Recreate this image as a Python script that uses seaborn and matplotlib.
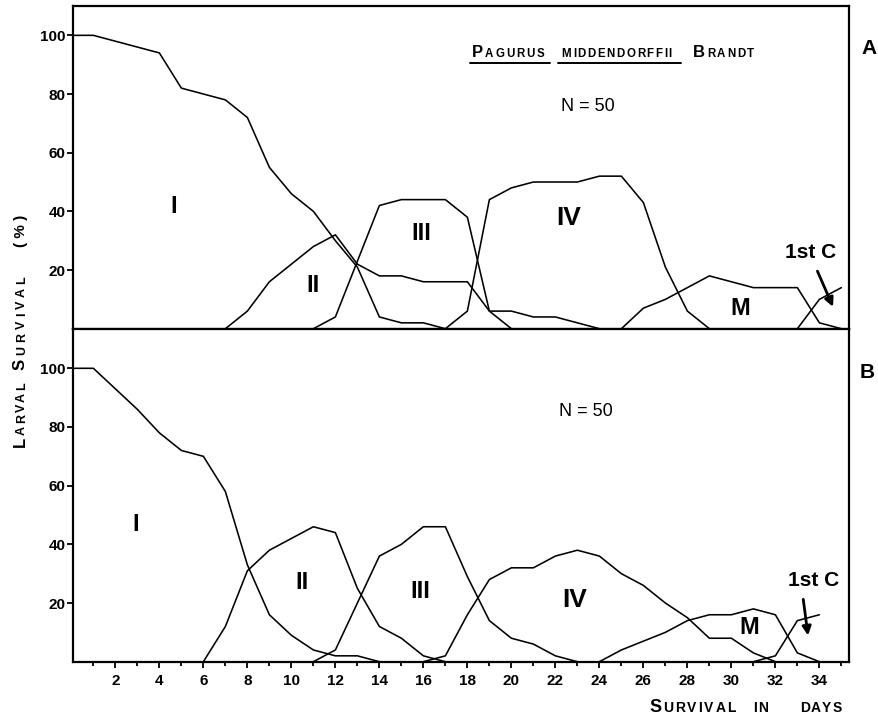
import matplotlib
matplotlib.use("Agg")
import matplotlib.pyplot as plt
import numpy as np
import pandas as pd
import seaborn as sns

# ---------------- data ----------------
# Panel A
A_I_days = list(range(0, 18))
A_I_vals = [100, 100, 98, 96, 94, 82, 80, 78, 72, 55, 46, 40, 30, 21, 4, 2, 2, 0]
A_II_days = list(range(7, 21))
A_II_vals = [0, 6, 16, 22, 28, 32, 22, 18, 18, 16, 16, 16, 6, 0]
A_III_days = list(range(11, 25))
A_III_vals = [0, 4, 23, 42, 44, 44, 44, 38, 6, 6, 4, 4, 2, 0]
A_IV_days = list(range(17, 30))
A_IV_vals = [0, 6, 44, 48, 50, 50, 50, 52, 52, 43, 21, 6, 0]
A_M_days = list(range(25, 36))
A_M_vals = [0, 7, 10, 14, 18, 16, 14, 14, 14, 2, 0]
A_C_days = [33, 34, 35]
A_C_vals = [0, 10, 14]

# Panel B
B_I_days = list(range(0, 15))
B_I_vals = [100, 100, 93, 86, 78, 72, 70, 58, 33, 16, 9, 4, 2, 2, 0]
B_II_days = list(range(6, 18))
B_II_vals = [0, 12, 31, 38, 42, 46, 44, 25, 12, 8, 2, 0]
B_III_days = list(range(11, 24))
B_III_vals = [0, 4, 20, 36, 40, 46, 46, 29, 14, 8, 6, 2, 0]
B_IV_days = list(range(16, 33))
B_IV_vals = [0, 2, 16, 28, 32, 32, 36, 38, 36, 30, 26, 20, 15, 8, 8, 3, 0]
B_M_days = list(range(24, 35))
B_M_vals = [0, 4, 7, 10, 14, 16, 16, 18, 16, 3, 0]
B_C_days = [31, 32, 33, 34]
B_C_vals = [0, 2, 14, 16]

stage_names = ["I", "II", "III", "IV", "M", "1st C"]
x_tick_labels = [str(d) for d in range(2, 35, 2)]
y_ticks = [20, 40, 60, 80, 100]

# ---------------- style ----------------
sns.set_style("ticks")
plt.rcParams["font.family"] = ["Liberation Sans", "DejaVu Sans"]
plt.rcParams["axes.linewidth"] = 1.6
for k in ["text.color", "axes.labelcolor", "xtick.color", "ytick.color", "axes.edgecolor"]:
    plt.rcParams[k] = "black"

W, H = 879, 716
fig = plt.figure(figsize=(W / 100, H / 100), dpi=100)


def fx(px):
    return px / W


def fy(py):
    return 1 - py / H


L, R = 72.7, 849.3
axA = fig.add_axes([fx(L), fy(328.7), (R - L) / W, (328.7 - 6) / H])
axB = fig.add_axes([fx(L), fy(661.7), (R - L) / W, (661.7 - 328.7) / H])


def make_df(pairs):
    rows = []
    for name, (d, v) in zip(stage_names, pairs):
        for dd, vv in zip(d, v):
            rows.append({"day": dd, "value": vv, "stage": name})
    return pd.DataFrame(rows)


dfA = make_df([(A_I_days, A_I_vals), (A_II_days, A_II_vals), (A_III_days, A_III_vals),
               (A_IV_days, A_IV_vals), (A_M_days, A_M_vals), (A_C_days, A_C_vals)])
dfB = make_df([(B_I_days, B_I_vals), (B_II_days, B_II_vals), (B_III_days, B_III_vals),
               (B_IV_days, B_IV_vals), (B_M_days, B_M_vals), (B_C_days, B_C_vals)])

for ax, df, ytop in [(axA, dfA, 110), (axB, dfB, 113.5)]:
    sns.lineplot(data=df, x="day", y="value", hue="stage", palette=["black"] * 6,
                 legend=False, linewidth=1.15, ax=ax, estimator=None, sort=False)
    ax.set_xlim(0.06, 35.36)
    ax.set_ylim(0, ytop)
    ax.set_xlabel("")
    ax.set_ylabel("")
    ax.set_yticks(y_ticks)
    ax.set_yticklabels([str(v) for v in y_ticks], fontweight="bold", fontsize=11)
    ax.set_xticks(list(range(2, 35, 2)))
    ax.set_xticks(list(range(1, 36, 2)), minor=True)
    ax.tick_params(axis="y", direction="out", length=4, width=1.3, pad=1, colors="black")
    ax.tick_params(axis="x", which="major", direction="out", length=4, width=1.3, pad=5,
                   colors="black")
    ax.tick_params(axis="x", which="minor", direction="out", length=3, width=1.3,
                   colors="black")
    for s in ax.spines.values():
        s.set_linewidth(1.6)
        s.set_color("black")

axA.tick_params(axis="x", labelbottom=False)
axB.set_xticklabels(x_tick_labels, fontweight="bold", fontsize=11)

# ---------------- stage labels ----------------
lab = dict(ha="center", va="center", fontweight="bold", color="black")
axA.text(4.64, 41.6, "I", fontsize=17, **lab)
axA.text(11.0, 14.6, "II", fontsize=17, **lab)
axA.text(15.9, 32.5, "III", fontsize=17, **lab)
axA.text(22.6, 37.6, "IV", fontsize=19, **lab)
axA.text(30.4, 7.0, "M", fontsize=17, **lab)
axA.text(33.6, 26.0, "1st C", fontsize=15, **lab)
axA.annotate("", xy=(34.67, 6.6), xytext=(33.86, 20.5),
             arrowprops=dict(arrowstyle="-|>", lw=2, color="black", mutation_scale=13))
axA.text(23.47, 75.9, "N = 50", fontsize=13, ha="center", va="center", color="black")

axB.text(2.94, 46.6, "I", fontsize=17, **lab)
axB.text(10.5, 26.9, "II", fontsize=17, **lab)
axB.text(15.85, 23.9, "III", fontsize=17, **lab)
axB.text(22.9, 21.0, "IV", fontsize=19, **lab)
axB.text(30.8, 11.6, "M", fontsize=17, **lab)
axB.text(33.76, 27.6, "1st C", fontsize=15, **lab)
axB.annotate("", xy=(33.5, 8.0), xytext=(33.25, 22.2),
             arrowprops=dict(arrowstyle="-|>", lw=2, color="black", mutation_scale=13))
axB.text(23.4, 85.2, "N = 50", fontsize=13, ha="center", va="center", color="black")

fig.text(fx(868.7), fy(49), "A", fontsize=15, fontweight="bold", ha="center", va="center")
fig.text(fx(867.3), fy(373), "B", fontsize=15, fontweight="bold", ha="center", va="center")

# ---------------- small-caps helper ----------------
renderer = fig.canvas.get_renderer()


def small_caps(x_px, y_px, parts, tracking=1.5, vertical=False, weight="bold"):
    pos = y_px if vertical else x_px
    for text, size in parts:
        for ch in text:
            if vertical:
                t = fig.text(fx(x_px), fy(pos), ch, fontsize=size, fontweight=weight,
                             ha="left", va="baseline", rotation=90, rotation_mode="anchor")
                bb = t.get_window_extent(renderer)
                pos -= bb.height + tracking
            else:
                t = fig.text(fx(pos), fy(y_px), ch, fontsize=size, fontweight=weight,
                             ha="left", va="baseline")
                bb = t.get_window_extent(renderer)
                pos += bb.width + tracking
    return pos


# title
small_caps(471.7, 57.3, [("P", 12), ("AGURUS", 8.3)], tracking=2.0)
small_caps(561.7, 57.3, [("MIDDENDORFFII", 8.3)], tracking=1.6)
small_caps(693.0, 57.3, [("B", 12), ("RANDT", 8.3)], tracking=1.8)
fig.add_artist(plt.Line2D([fx(470), fx(550)], [fy(63.3), fy(63.3)], color="black", lw=1.4))
fig.add_artist(plt.Line2D([fx(558), fx(681)], [fy(63.3), fy(63.3)], color="black", lw=1.4))

# y label (vertical)
small_caps(25, 447, [("L", 12), ("ARVAL", 9)], tracking=2.2, vertical=True)
small_caps(25, 370, [("S", 12), ("URVIVAL", 9)], tracking=4.0, vertical=True)
fig.text(fx(25), fy(247), "( % )", fontsize=11, fontweight="bold", ha="left",
         va="baseline", rotation=90, rotation_mode="anchor")

# x label
small_caps(649, 712.3, [("S", 13), ("URVIVAL", 10)], tracking=2.0)
small_caps(752.7, 712.3, [("IN", 10)], tracking=2.0)
small_caps(800, 712.3, [("DAYS", 10)], tracking=1.0)

fig.savefig("out.png", dpi=100)
